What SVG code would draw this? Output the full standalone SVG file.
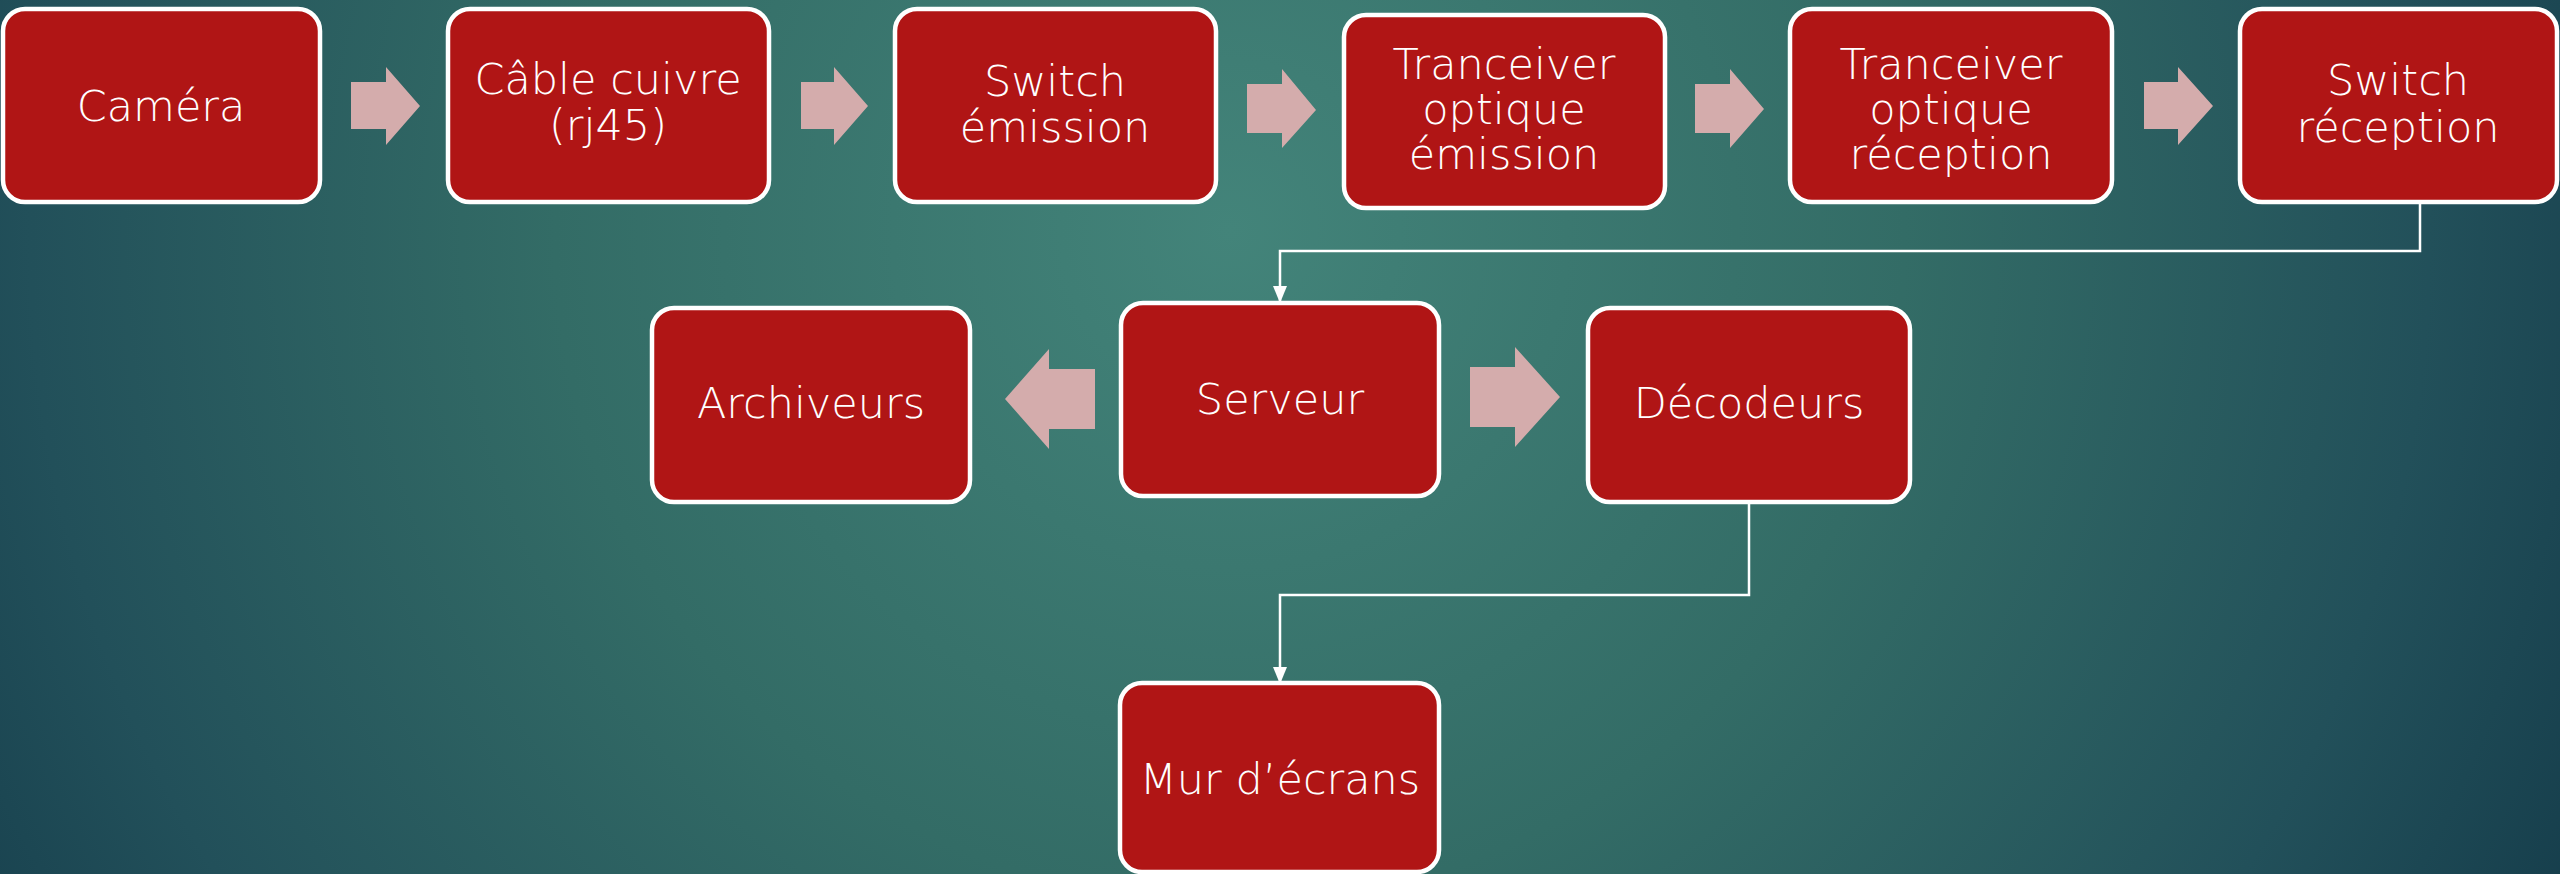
<svg xmlns="http://www.w3.org/2000/svg" width="2560" height="874" viewBox="0 0 2560 874">
<defs>
<radialGradient id="bg" cx="1230" cy="230" r="1500" gradientUnits="userSpaceOnUse">
<stop offset="0" stop-color="#43847A"/>
<stop offset="0.45" stop-color="#336C66"/>
<stop offset="0.8" stop-color="#22505A"/>
<stop offset="1" stop-color="#163E4C"/>
</radialGradient>
<marker id="ah" markerUnits="userSpaceOnUse" markerWidth="18" markerHeight="16" refX="16" refY="8" orient="auto" viewBox="0 0 18 16">
<polygon points="0,1 17,8 0,15" fill="#FFFFFF"/>
</marker>
<style>
.box{fill:#B01515;stroke:#FFFFFF;stroke-width:4.5}
.t{fill:#FFFFFF;font-family:"DejaVu Sans","Liberation Sans",sans-serif;font-weight:300;font-size:43px;text-anchor:middle}
.blk{fill:#D4ACAC}
.ln{fill:none;stroke:#FFFFFF;stroke-width:2.5}
</style>
</defs>
<rect x="0" y="0" width="2560" height="874" fill="url(#bg)"/>
<g id="connectors">
<polygon class="blk" points="351,82 386,82 386,67 420,106 386,145 386,129 351,129"/>
<polygon class="blk" points="801,82 834,82 834,67 868,106 834,145 834,129 801,129"/>
<polygon class="blk" points="1247,84 1282,84 1282,69 1316,110 1282,148 1282,133 1247,133"/>
<polygon class="blk" points="1695,84 1730,84 1730,69 1764,109 1730,148 1730,133 1695,133"/>
<polygon class="blk" points="2144,82 2178,82 2178,67 2213,106 2178,145 2178,129 2144,129"/>
<polygon class="blk" points="1095,369 1049,369 1049,349 1005,399 1049,449 1049,429 1095,429"/>
<polygon class="blk" points="1470,367 1515,367 1515,347 1560,397 1515,447 1515,427 1470,427"/>
<path class="ln" d="M2420,202 V251 H1280 V302" marker-end="url(#ah)"/>
<path class="ln" d="M1749,501 V595 H1280 V683" marker-end="url(#ah)"/>
</g>
<g id="camera"><rect class="box" x="3" y="9" width="317" height="193" rx="22"/><text class="t" x="161" y="121">Caméra</text></g>
<g id="cable"><rect class="box" x="448" y="9" width="321" height="193" rx="22"/><text class="t" x="608" y="94">Câble cuivre</text><text class="t" x="608" y="140">(rj45)</text></g>
<g id="switch-emission"><rect class="box" x="895" y="9" width="321" height="193" rx="22"/><text class="t" x="1055" y="96">Switch</text><text class="t" x="1055" y="142">émission</text></g>
<g id="tranceiver-emission"><rect class="box" x="1344" y="15" width="321" height="193" rx="22"/><text class="t" x="1504" y="79">Tranceiver</text><text class="t" x="1504" y="124">optique</text><text class="t" x="1504" y="169">émission</text></g>
<g id="tranceiver-reception"><rect class="box" x="1790" y="9" width="322" height="193" rx="22"/><text class="t" x="1951" y="79">Tranceiver</text><text class="t" x="1951" y="124">optique</text><text class="t" x="1951" y="169">réception</text></g>
<g id="switch-reception"><rect class="box" x="2240" y="9" width="317" height="193" rx="22"/><text class="t" x="2398" y="95">Switch</text><text class="t" x="2398" y="142">réception</text></g>
<g id="archiveurs"><rect class="box" x="652" y="308" width="318" height="194" rx="22"/><text class="t" x="811" y="418">Archiveurs</text></g>
<g id="serveur"><rect class="box" x="1121" y="303" width="318" height="193" rx="22"/><text class="t" x="1280" y="414">Serveur</text></g>
<g id="decodeurs"><rect class="box" x="1588" y="308" width="322" height="194" rx="22"/><text class="t" x="1749" y="418">Décodeurs</text></g>
<g id="mur-ecrans"><rect class="box" x="1120" y="683" width="319" height="189" rx="22"/><text class="t" x="1280" y="794">Mur d’écrans</text></g>
</svg>
